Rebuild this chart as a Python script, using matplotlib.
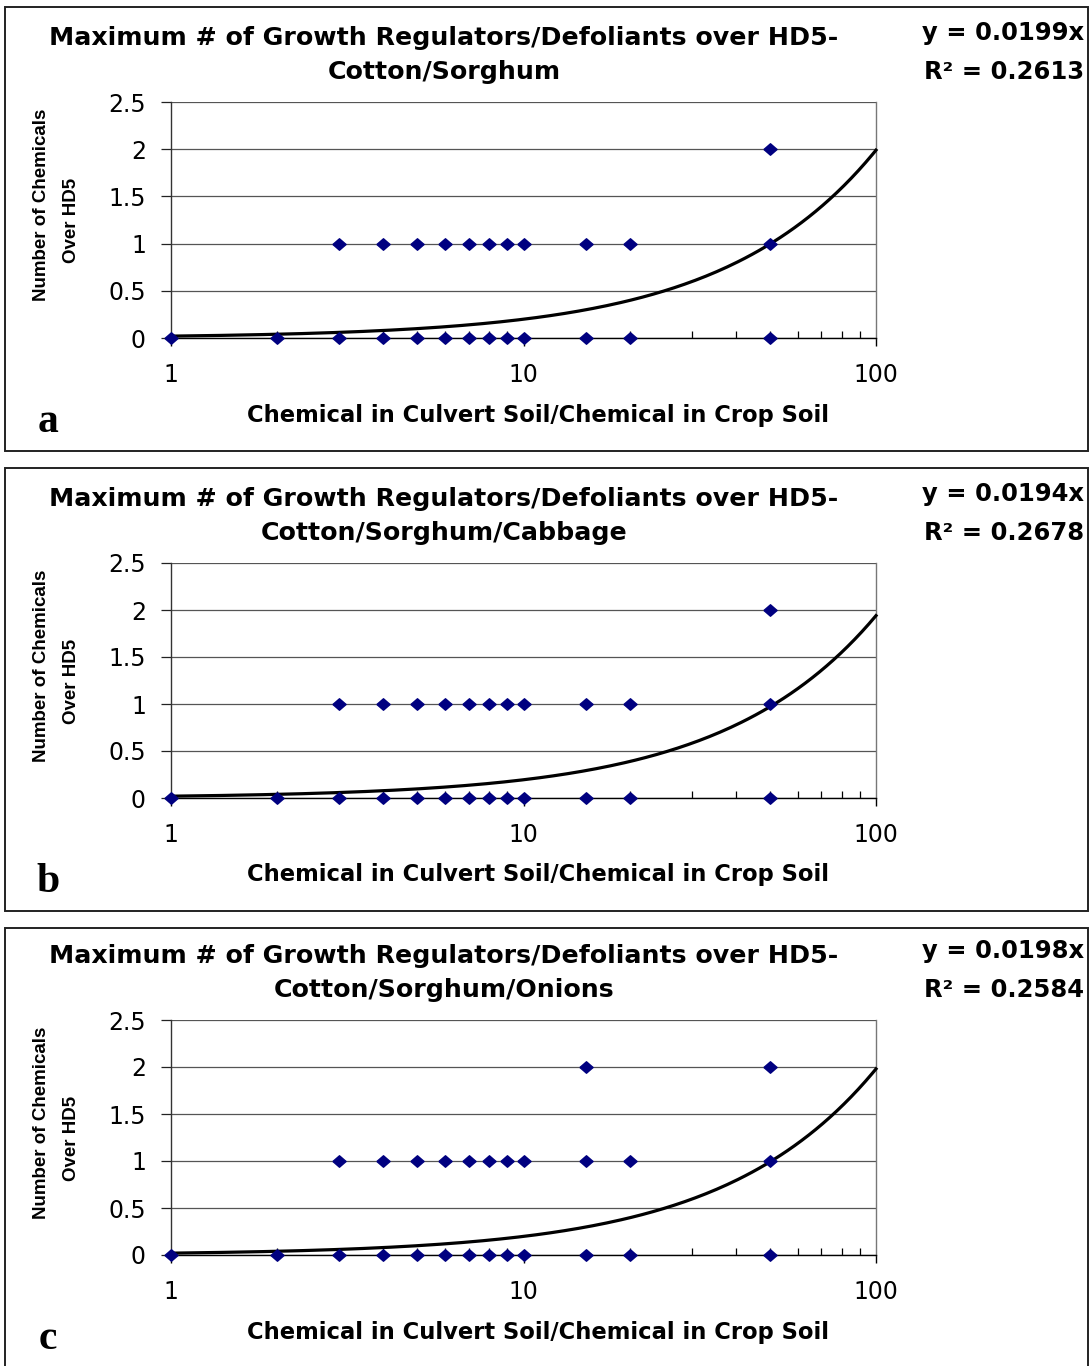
import matplotlib
matplotlib.use("Agg")
import matplotlib.pyplot as plt
import numpy as np
from matplotlib.patches import Rectangle

# ---------------- data ----------------
title_line1 = "Maximum # of Growth Regulators/Defoliants over HD5-"
crops = ["Cotton/Sorghum", "Cotton/Sorghum/Cabbage", "Cotton/Sorghum/Onions"]
panel_letters = ["a", "b", "c"]
slopes = [0.0199, 0.0194, 0.0198]
r2_values = ["0.2613", "0.2678", "0.2584"]

a_x = [1, 2, 3, 4, 5, 6, 7, 8, 9, 10, 15, 20, 50,
       3, 4, 5, 6, 7, 8, 9, 10, 15, 20, 50,
       50]
a_y = [0, 0, 0, 0, 0, 0, 0, 0, 0, 0, 0, 0, 0,
       1, 1, 1, 1, 1, 1, 1, 1, 1, 1, 1,
       2]
b_x = [1, 2, 3, 4, 5, 6, 7, 8, 9, 10, 15, 20, 50,
       3, 4, 5, 6, 7, 8, 9, 10, 15, 20, 50,
       50]
b_y = [0, 0, 0, 0, 0, 0, 0, 0, 0, 0, 0, 0, 0,
       1, 1, 1, 1, 1, 1, 1, 1, 1, 1, 1,
       2]
c_x = [1, 2, 3, 4, 5, 6, 7, 8, 9, 10, 15, 20, 50,
       3, 4, 5, 6, 7, 8, 9, 10, 15, 20, 50,
       15, 50]
c_y = [0, 0, 0, 0, 0, 0, 0, 0, 0, 0, 0, 0, 0,
       1, 1, 1, 1, 1, 1, 1, 1, 1, 1, 1,
       2, 2]
panel_x = [a_x, b_x, c_x]
panel_y = [a_y, b_y, c_y]

y_ticks = [0, 0.5, 1, 1.5, 2, 2.5]
y_tick_labels = ["0", "0.5", "1", "1.5", "2", "2.5"]
x_ticks = [1, 10, 100]
x_tick_labels = ["1", "10", "100"]
x_label = "Chemical in Culvert Soil/Chemical in Crop Soil"
y_label_lines = ["Number of Chemicals", "Over HD5"]

# ---------------- layout ----------------
W, H = 1092, 1366
plt.rcParams['font.family'] = ['DejaVu Sans']

fig = plt.figure(figsize=(W / 100, H / 100), dpi=100)

def fx(x):
    return x / W

def fy(y):
    return 1 - y / H

border_tops = [7, 468, 928]
border_bots = [451, 911, 1372]
ax_tops = [102, 563, 1020]
ax_bots = [338, 798, 1255]
ax_left, ax_right = 171, 876

# slightly wide diamond marker (the reference is horizontally stretched)
diamond = [(-1.15, 0), (0, 1), (1.15, 0), (0, -1), (-1.15, 0)]

for i in range(3):
    # panel border
    fig.patches.append(Rectangle((fx(5), fy(border_bots[i])), fx(1088 - 5),
                                 (border_bots[i] - border_tops[i]) / H,
                                 transform=fig.transFigure, fill=False,
                                 edgecolor='#222222', linewidth=1.4))
    t, b = ax_tops[i], ax_bots[i]
    ax = fig.add_axes([fx(ax_left), fy(b), fx(ax_right - ax_left), (b - t) / H])
    ax.set_xscale('log')
    ax.set_xlim(1, 100)
    ax.set_ylim(0, 2.5)

    xs = np.logspace(0, 2, 200)
    ax.plot(xs, slopes[i] * xs, color='black', lw=2.3, zorder=3, clip_on=False)
    ax.plot(panel_x[i], panel_y[i], linestyle='none', marker=diamond, ms=9.5,
            color='#000080', mec='#000080', zorder=4, clip_on=False)

    ax.set_yticks(y_ticks, labels=y_tick_labels)
    ax.set_xticks(x_ticks, labels=x_tick_labels)
    ax.grid(axis='y', color='#555555', lw=0.9)
    ax.grid(axis='x', visible=False)
    ax.set_axisbelow(True)
    ax.spines['top'].set_visible(False)
    ax.spines['left'].set_color('#333333')
    ax.spines['right'].set_color('#777777')
    ax.spines['bottom'].set_color('black')
    for s in ['left', 'right', 'bottom']:
        ax.spines[s].set_linewidth(1.0)
    ax.tick_params(axis='y', which='major', direction='out', length=7, width=0.9,
                   pad=11, labelsize=17, colors='#222222', labelcolor='black')
    ax.tick_params(axis='x', which='major', direction='out', length=6, width=1.0,
                   pad=12, labelsize=17)
    ax.tick_params(axis='x', which='minor', direction='in', length=5, width=0.9)
    ax.xaxis.set_minor_formatter(matplotlib.ticker.NullFormatter())

    # titles
    fig.text(fx(444), fy(t - 64), title_line1, ha='center', va='center',
             fontsize=18.2, fontweight='bold')
    fig.text(fx(444), fy(t - 30), crops[i], ha='center', va='center',
             fontsize=18.2, fontweight='bold')
    # equation
    fig.text(fx(1084), fy(t - 69), f"y = {slopes[i]:.4f}x", ha='right', va='center',
             fontsize=17.5, fontweight='bold')
    fig.text(fx(1084), fy(t - 30), f"R² = {r2_values[i]}", ha='right', va='center',
             fontsize=17.5, fontweight='bold')
    # axis labels
    fig.text(fx(538), fy(b + 77), x_label, ha='center', va='center',
             fontsize=16.3, fontweight='bold')
    fig.text(fx(42), fy(t + 103), y_label_lines[0], ha='center', va='center',
             rotation=90, fontsize=13.5, fontweight='bold', family='Liberation Sans')
    fig.text(fx(72), fy(t + 118), y_label_lines[1], ha='center', va='center',
             rotation=90, fontsize=13.5, fontweight='bold', family='Liberation Sans')
    # panel letter
    fig.text(fx(48), fy(b + 84), panel_letters[i], ha='center', va='center',
             fontsize=30, fontweight='bold', family='Liberation Serif')

fig.savefig("out.png", dpi=100)
